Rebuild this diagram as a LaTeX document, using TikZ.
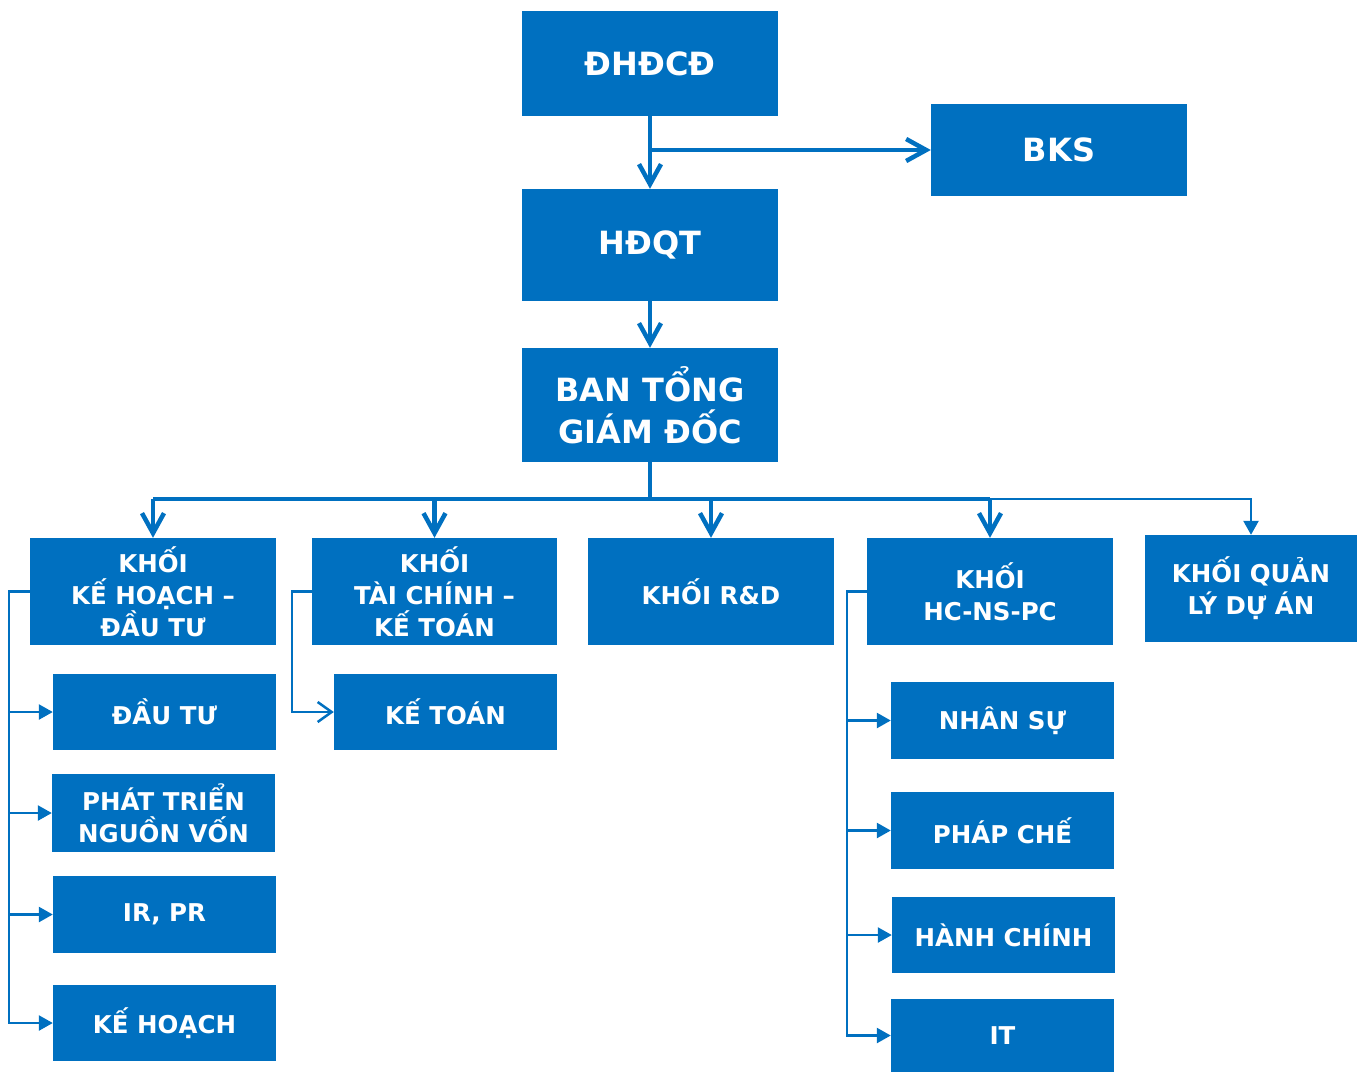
\documentclass[tikz,border=0pt]{standalone}
\usepackage{fontspec}
\setmainfont{DejaVu Sans}
\usetikzlibrary{arrows.meta}
\definecolor{bl}{HTML}{0070C0}
\begin{document}
\begin{tikzpicture}[x=1pt,y=-1pt,
  box/.style={fill=bl, text=white, font=\bfseries\fontsize{24.5}{32}\selectfont, align=center, inner sep=0pt},
  big/.style={box, font=\bfseries\fontsize{32}{42}\selectfont},
  bigline/.style={draw=bl, line width=4.5pt},
  thinline/.style={draw=bl, line width=2.5pt},
  barb/.style={-{Straight Barb[length=20pt,width=22pt]}},
  tri/.style={-{Triangle[length=14pt,width=15pt]}},
  thinbarb/.style={-{Straight Barb[length=14pt,width=20pt]}}
]
\useasboundingbox (0,0) rectangle (1357,1072);
% top
\node[big, minimum width=256pt, minimum height=105pt] (dhcd) at (650,63.5) {ĐHĐCĐ};
\node[big, minimum width=256pt, minimum height=92pt] (bks) at (1059,150) {BKS};
\node[big, minimum width=256pt, minimum height=112pt] (hdqt) at (650,245) {HĐQT};
\node[big, minimum width=256pt, minimum height=114pt] (btgd) at (650,405) {BAN TỔNG\\GIÁM ĐỐC};
% row
\node[box, minimum width=246pt, minimum height=107pt] (k1) at (153,591.5) {KHỐI\\KẾ HOẠCH –\\ĐẦU TƯ};
\node[box, minimum width=245pt, minimum height=107pt] (k2) at (434.5,591.5) {KHỐI\\TÀI CHÍNH –\\KẾ TOÁN};
\node[box, minimum width=246pt, minimum height=107pt] (k3) at (711,591.5) {KHỐI R\&D};
\node[box, minimum width=246pt, minimum height=107pt] (k4) at (990,591.5) {KHỐI\\HC-NS-PC};
\node[box, minimum width=212pt, minimum height=107pt] (k5) at (1251,588.5) {KHỐI QUẢN\\LÝ DỰ ÁN};
% left subs
\node[box, minimum width=223pt, minimum height=76pt] (s1) at (164.5,712) {ĐẦU TƯ};
\node[box, minimum width=223pt, minimum height=78pt] (s2) at (163.5,813) {PHÁT TRIỂN\\NGUỒN VỐN};
\node[box, minimum width=223pt, minimum height=77pt] (s3) at (164.5,914.5) {IR, PR};
\node[box, minimum width=223pt, minimum height=76pt] (s4) at (164.5,1023) {KẾ HOẠCH};
\node[box, minimum width=223pt, minimum height=76pt] (kt) at (445.5,712) {KẾ TOÁN};
% right subs
\node[box, minimum width=223pt, minimum height=77pt] (r1) at (1002.5,720.5) {NHÂN SỰ};
\node[box, minimum width=223pt, minimum height=77pt] (r2) at (1002.5,830.5) {PHÁP CHẾ};
\node[box, minimum width=223pt, minimum height=76pt] (r3) at (1003.5,935) {HÀNH CHÍNH};
\node[box, minimum width=223pt, minimum height=73pt] (r4) at (1002.5,1035.5) {IT};
% connectors top
\coordinate (j1) at (650,150);
\draw[bigline, barb] (dhcd.south) -- (hdqt.north);
\draw[bigline, barb] (j1) -- (bks.west);
\draw[bigline, barb] (hdqt.south) -- (btgd.north);
\coordinate (bus) at (650,499);
\draw[bigline] (btgd.south) -- (bus);
\draw[bigline] (k1.north|-bus) -- (k4.north|-bus);
\foreach \k in {k1,k2,k3,k4}{\draw[bigline, barb] (\k.north|-bus) -- (\k.north);}
\draw[thinline, tri] (k4.north|-bus) -| (k5.north);
% left fork
\coordinate (f1) at (9,591.5);
\draw[thinline, tri] (k1.west) -- (f1) |- (s4.west);
\foreach \s in {s1,s2,s3}{\draw[thinline, tri] (f1|-\s.west) -- (\s.west);}
% KT
\coordinate (f2) at (292,591.5);
\draw[thinline, thinbarb] (k2.west) -- (f2) |- (kt.west);
% right fork
\coordinate (f3) at (847,591.5);
\draw[thinline, tri] (k4.west) -- (f3) |- (r4.west);
\foreach \r in {r1,r2,r3}{\draw[thinline, tri] (f3|-\r.west) -- (\r.west);}
\end{tikzpicture}
\end{document}
